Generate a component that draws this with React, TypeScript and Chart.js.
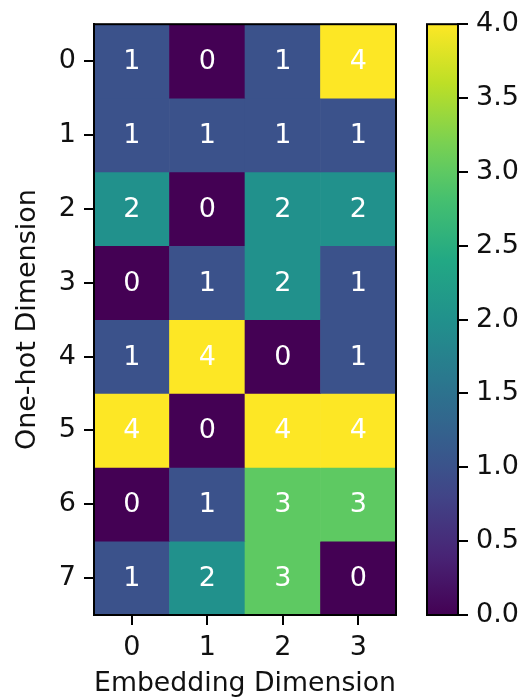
import { useEffect, useRef } from 'react';
import { Chart, registerables } from 'chart.js';

Chart.register(...registerables);

// ---------------- data ----------------
const embeddingDims = ['0', '1', '2', '3'];
const oneHotDims = [0, 1, 2, 3, 4, 5, 6, 7];
const row0 = [1, 0, 1, 4];
const row1 = [1, 1, 1, 1];
const row2 = [2, 0, 2, 2];
const row3 = [0, 1, 2, 1];
const row4 = [1, 4, 0, 1];
const row5 = [4, 0, 4, 4];
const row6 = [0, 1, 3, 3];
const row7 = [1, 2, 3, 0];
const cellValues = [row0, row1, row2, row3, row4, row5, row6, row7];
const colorMin = 0;
const colorMax = 4;
const colorbarTicks = [0, 0.5, 1, 1.5, 2, 2.5, 3, 3.5, 4];
const xTitle = 'Embedding Dimension';
const yTitle = 'One-hot Dimension';

// ---------------- styling ----------------
const FONT_FAMILY = "'DejaVu Sans', sans-serif";
const FONT_SIZE = 27;
const TEXT_COLOR = '#111111';

const VIRIDIS: [number, string][] = [
  [0, '#440154'], [0.1, '#482475'], [0.2, '#414487'], [0.25, '#3b528b'],
  [0.3, '#355f8d'], [0.4, '#2a788e'], [0.5, '#21918c'], [0.6, '#22a884'],
  [0.7, '#44bf70'], [0.75, '#5ec962'], [0.8, '#7ad151'], [0.9, '#bddf26'],
  [1, '#fde725'],
];

function hexToRgb(h: string) {
  const n = parseInt(h.slice(1), 16);
  return [(n >> 16) & 255, (n >> 8) & 255, n & 255];
}

function viridis(t: number) {
  const x = Math.max(0, Math.min(1, t));
  for (let i = 0; i < VIRIDIS.length - 1; i++) {
    const [t0, c0] = VIRIDIS[i];
    const [t1, c1] = VIRIDIS[i + 1];
    if (x >= t0 && x <= t1) {
      const f = t1 === t0 ? 0 : (x - t0) / (t1 - t0);
      const a = hexToRgb(c0);
      const b = hexToRgb(c1);
      const r = a.map((v, k) => Math.round(v + (b[k] - v) * f));
      return `rgb(${r[0]},${r[1]},${r[2]})`;
    }
  }
  return VIRIDIS[VIRIDIS.length - 1][1];
}

const framePlugin = {
  id: 'frame',
  afterDatasetsDraw(chart: any) {
    const { ctx, chartArea } = chart;
    const { left, top, right, bottom } = chartArea;
    ctx.save();
    ctx.strokeStyle = '#000';
    ctx.lineWidth = 2;
    ctx.strokeRect(left, top, right - left, bottom - top);
    ctx.restore();
  },
};

const annotatePlugin = {
  id: 'annotate',
  afterDatasetsDraw(chart: any) {
    const ctx = chart.ctx;
    ctx.save();
    ctx.fillStyle = '#ffffff';
    ctx.font = `${FONT_SIZE}px ${FONT_FAMILY}`;
    ctx.textAlign = 'center';
    ctx.textBaseline = 'middle';
    cellValues.forEach((row, r) => {
      const meta = chart.getDatasetMeta(r);
      meta.data.forEach((bar: any, c: number) => {
        const p = bar.getCenterPoint();
        ctx.fillText(String(row[c]), p.x, p.y + 1);
      });
    });
    ctx.restore();
  },
};

const MAIN_W = 410;
const CB_W = 524 - MAIN_W;
const H = 700;

export default function App() {
  const mainRef = useRef<HTMLCanvasElement>(null);
  const cbRef = useRef<HTMLCanvasElement>(null);

  useEffect(() => {
    const font = { family: FONT_FAMILY, size: FONT_SIZE };
    const main = new Chart(mainRef.current!, {
      type: 'bar',
      data: {
        labels: embeddingDims,
        datasets: cellValues.map((row, r) => ({
          label: `row ${oneHotDims[r]}`,
          data: row.map(() => [oneHotDims[r] - 0.5, oneHotDims[r] + 0.5]),
          backgroundColor: row.map((v) => viridis((v - colorMin) / (colorMax - colorMin))),
          borderWidth: 0,
          barPercentage: 1,
          categoryPercentage: 1,
          grouped: false,
        })) as any,
      },
      options: {
        responsive: false,
        animation: false,
        layout: { padding: { top: 11, right: MAIN_W - 396, left: 0, bottom: 0 } },
        plugins: { legend: { display: false }, tooltip: { enabled: false } },
        scales: {
          x: {
            type: 'category',
            offset: true,
            grid: { offset: false, drawOnChartArea: false, drawTicks: true, tickLength: 10, color: '#000', lineWidth: 2 },
            border: { display: true, color: '#000', width: 2 },
            ticks: { color: TEXT_COLOR, font, padding: 7, maxRotation: 0 },
            title: { display: true, text: xTitle, color: TEXT_COLOR, font: { ...font, lineHeight: 1.15 }, padding: { top: 0, bottom: 0 } },
            afterFit(s: any) { s.height = 85; },
          },
          y: {
            type: 'linear',
            min: -0.5,
            max: 7.5,
            reverse: true,
            afterBuildTicks(s: any) { s.ticks = oneHotDims.map((v) => ({ value: v })); },
            grid: { drawOnChartArea: false, drawTicks: true, tickLength: 10, color: '#000', lineWidth: 2 },
            border: { display: true, color: '#000', width: 2 },
            ticks: { color: TEXT_COLOR, font, padding: 8, callback: (v: any) => String(v) },
            title: { display: true, text: yTitle, color: TEXT_COLOR, font: { ...font, lineHeight: 1.2 }, padding: { top: 12, bottom: 0 } },
            afterFit(s: any) { s.width = 94; },
          },
        },
      } as any,
      plugins: [framePlugin, annotatePlugin],
    });

    const cb = new Chart(cbRef.current!, {
      type: 'bar',
      data: {
        labels: [''],
        datasets: [{
          label: 'colorbar',
          data: [[colorMin, colorMax]] as any,
          backgroundColor: (c: any) => {
            const area = c.chart.chartArea;
            if (!area) return viridis(0.5);
            const g = c.chart.ctx.createLinearGradient(0, area.bottom, 0, area.top);
            VIRIDIS.forEach(([t, col]) => g.addColorStop(t, col));
            return g;
          },
          borderWidth: 0,
          barPercentage: 1,
          categoryPercentage: 1,
        }],
      },
      options: {
        responsive: false,
        animation: false,
        layout: { padding: { top: 11, left: 427 - MAIN_W, bottom: H - 615, right: 0 } },
        plugins: { legend: { display: false }, tooltip: { enabled: false } },
        scales: {
          x: { display: false, offset: true },
          y: {
            position: 'right',
            min: colorMin,
            max: colorMax,
            afterBuildTicks(s: any) { s.ticks = colorbarTicks.map((v) => ({ value: v })); },
            grid: { drawOnChartArea: false, drawTicks: true, tickLength: 10, color: '#000', lineWidth: 2 },
            border: { display: true, color: '#000', width: 2 },
            ticks: { color: TEXT_COLOR, font, padding: 8, callback: (v: any) => Number(v).toFixed(1) },
            afterFit(s: any) { s.width = CB_W - (458 - MAIN_W); },
          },
        },
      } as any,
      plugins: [framePlugin],
    });

    return () => {
      main.destroy();
      cb.destroy();
    };
  }, []);

  return (
    <div style={{ position: 'fixed', left: 0, top: 0, width: 524, height: H, background: '#fff' }}>
      <canvas ref={mainRef} width={MAIN_W} height={H} style={{ position: 'absolute', left: 0, top: 0, width: MAIN_W, height: H }} />
      <canvas ref={cbRef} width={CB_W} height={H} style={{ position: 'absolute', left: MAIN_W, top: 0, width: CB_W, height: H }} />
    </div>
  );
}
